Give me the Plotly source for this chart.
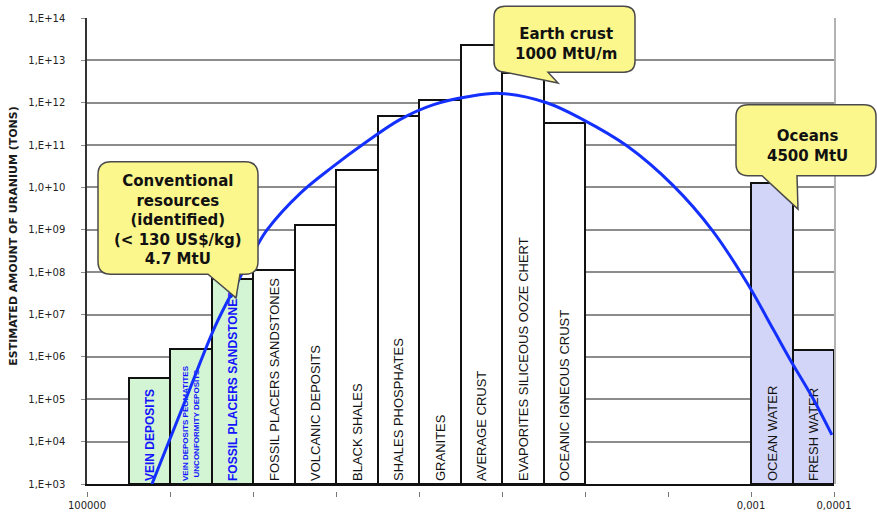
import plotly.graph_objects as go

W, H = 877, 523
PL, PR, PT, PB = 87, 834, 17, 497   # plot area in pixels (x-tick axis at PB)
Y_AXIS_BOTTOM = 490

# ---------------- data ----------------
categories = [
    "VEIN DEPOSITS",
    "VEIN DEPOSITS PEGMATITES<br>UNCONFORMITY DEPOSITS",
    "FOSSIL PLACERS SANDSTONES",
    "FOSSIL PLACERS SANDSTONES",
    "VOLCANIC DEPOSITS",
    "BLACK SHALES",
    "SHALES PHOSPHATES",
    "GRANITES",
    "AVERAGE CRUST",
    "EVAPORITES SILICEOUS OOZE CHERT",
    "OCEANIC IGNEOUS CRUST",
    "OCEAN WATER",
    "FRESH WATER",
]
grade_hi = [31623, 10000, 3162.3, 1000, 316.23, 100, 31.623, 10, 3.1623, 1, 0.31623, 0.001, 0.00031623]
grade_lo = [10000, 3162.3, 1000, 316.23, 100, 31.623, 10, 3.1623, 1, 0.31623, 0.1, 0.00031623, 0.0001]
tons = [3.2e5, 1.55e6, 6.9e7, 1.1e8, 1.3e9, 2.6e10, 4.8e11, 1.15e12, 2.3e13, 5.0e12, 3.4e11, 1.3e10, 1.5e6]
group = ["conv", "conv", "conv", "rock", "rock", "rock", "rock", "rock", "rock", "rock", "rock", "water", "water"]

curve_grade = [16500, 6400, 2870, 1648, 946, 678, 272, 109, 42, 17, 6.8, 2.6, 1.06, 0.29, 0.106,
               0.031, 0.0087, 0.0029, 0.00109, 0.00054, 0.00034, 0.000179, 0.000106]
curve_tons = [1.0e3, 1.05e5, 5.2e6, 4.48e7, 3.43e8, 1.0e9, 7.2e9, 3.1e10, 1.23e11, 4.0e11, 8.9e11,
              1.38e12, 1.66e12, 1.0e12, 4.0e11, 9.5e10, 1.12e10, 9.5e8, 5.2e7, 4.5e6, 8.9e5, 1.05e5, 1.45e4]

y_tickvals = [1e3, 1e4, 1e5, 1e6, 1e7, 1e8, 1e9, 1e10, 1e11, 1e12, 1e13, 1e14]
y_ticktext = ["1,E+03", "1,E+04", "1,E+05", "1,E+06", "1,E+07", "1,E+08", "1,E+09",
              "1,0+10", "1,E+11", "1,E+12", "1,E+13", "1,E+14"]
x_tickvals = [1e5, 1e4, 1e3, 1e2, 1e1, 1, 0.1, 0.01, 0.001, 0.0001]
x_ticktext = ["100000", "", "", "", "", "", "", "", "0,001", "0,0001"]

callouts = [
    "Conventional<br>resources<br>(identified)<br>(< 130 US$/kg)<br>4.7 MtU",
    "Earth crust<br>1000 MtU/m",
    "Oceans<br>4500 MtU",
]

# ---------------- styles ----------------
fill_map = {"conv": "#d3f5d3", "rock": "#ffffff", "water": "#d3d5f8"}
textcol_map = {"conv": "#1414ff", "rock": "#111111", "water": "#111111"}
bar_fill = [fill_map[g] for g in group]
bar_textcol = [textcol_map[g] for g in group]
bar_textsize = [12 if g == "conv" else 13 for g in group]
bar_textsize[1] = 8
bar_text = [("<b>%s</b>" % c) if g == "conv" else c for c, g in zip(categories, group)]


def px(x, y):
    return (x - PL) / (PR - PL), (PB - y) / (PB - PT)


def bubble(x0, y0, x1, y1, r, tail):
    (bx, _), (tx, ty), (ax, _) = tail
    pts = [("M", x0 + r, y0), ("L", x1 - r, y0), ("Q", x1, y0, x1, y0 + r), ("L", x1, y1 - r),
           ("Q", x1, y1, x1 - r, y1), ("L", bx, y1), ("L", tx, ty), ("L", ax, y1),
           ("L", x0 + r, y1), ("Q", x0, y1, x0, y1 - r), ("L", x0, y0 + r), ("Q", x0, y0, x0 + r, y0)]
    s = ""
    for p in pts:
        cmd = p[0]
        coords = p[1:]
        parts = []
        for i in range(0, len(coords), 2):
            X, Y = px(coords[i], coords[i + 1])
            parts.append("%.5f,%.5f" % (X, Y))
        s += cmd + " " + " ".join(parts) + " "
    return s + "Z"


fig = go.Figure()

fig.add_trace(go.Bar(
    x=grade_lo, y=tons, width=[h - l for h, l in zip(grade_hi, grade_lo)], offset=0,
    base=1e3,
    marker=dict(color=bar_fill, line=dict(color="#111111", width=2)),
    text=bar_text, textposition="inside", insidetextanchor="start", textangle=-90,
    constraintext="none", cliponaxis=False,
    textfont=dict(family="Liberation Sans", size=bar_textsize, color=bar_textcol),
    showlegend=False, hoverinfo="skip",
))

fig.add_trace(go.Scatter(
    x=curve_grade, y=curve_tons, mode="lines", xaxis="x2", yaxis="y",
    line=dict(color="#1430ff", width=3, shape="spline", smoothing=1.0),
    showlegend=False, hoverinfo="skip",
))

ydom0 = (PB - Y_AXIS_BOTTOM) / (PB - PT)

shapes = [
    dict(type="line", xref="paper", yref="paper", x0=px(835, 0)[0], x1=px(835, 0)[0],
         y0=ydom0, y1=1, line=dict(color="#9a9a9a", width=1.5), layer="above"),
]
bubble_style = dict(type="path", xref="paper", yref="paper", fillcolor="#fcf78d",
                    line=dict(color="#4a4a4a", width=1.5), layer="above")
shapes.append(dict(path=bubble(98, 163, 258, 277, 13, [(240, 0), (236, 301), (208, 0)]), **bubble_style))
shapes.append(dict(path=bubble(494, 5, 635, 72, 11, [(548, 0), (558, 83), (505, 0)]), **bubble_style))
shapes.append(dict(path=bubble(736, 105, 876, 177, 12, [(797, 0), (798, 211), (762, 0)]), **bubble_style))

call_pos = [(178, 222), (566, 43), (807, 147)]
annotations = []
for txt, (cx, cy) in zip(callouts, call_pos):
    X, Y = px(cx, cy)
    annotations.append(dict(text=txt, x=X, y=Y, xref="paper", yref="paper", showarrow=False,
                            xanchor="center", yanchor="middle", align="center",
                            font=dict(family="DejaVu Sans", size=15, color="#111111", weight="bold")))
X, Y = px(14, 238)
annotations.append(dict(text="ESTIMATED AMOUNT OF URANIUM (TONS)", x=X, y=Y, xref="paper", yref="paper",
                        showarrow=False, textangle=-90, xanchor="center", yanchor="middle",
                        font=dict(family="DejaVu Sans", size=11, color="#1a1a1a", weight="bold")))

fig.update_layout(
    width=W, height=H,
    margin=dict(l=PL, r=W - PR, t=PT, b=H - PB),
    paper_bgcolor="white", plot_bgcolor="white",
    bargap=0,
    xaxis=dict(type="log", range=[5, -4], showgrid=False, zeroline=False, showline=True,
               linecolor="#111111", linewidth=2, ticks="", showticklabels=False, anchor="y"),
    xaxis2=dict(type="log", range=[5, -4], overlaying="x", anchor="free", position=0, side="bottom",
                showgrid=False, zeroline=False, showline=False, ticks="outside", ticklen=5,
                tickcolor="#777777", tickwidth=1, tickvals=x_tickvals, ticktext=x_ticktext,
                tickfont=dict(family="DejaVu Sans", size=10, color="#222222")),
    yaxis=dict(type="log", range=[3, 14], domain=[ydom0, 1], tickvals=y_tickvals, ticktext=y_ticktext,
               showgrid=True, gridcolor="#8c8c8c", gridwidth=1.5, zeroline=False,
               showline=True, linecolor="#333333", linewidth=1.5,
               ticks="outside", ticklen=4, tickcolor="#8c8c8c", ticklabelstandoff=14,
               tickfont=dict(family="DejaVu Sans", size=10, color="#222222")),
    shapes=shapes,
    annotations=annotations,
)

fig.write_html("out.html", config={"displayModeBar": False},
               post_script="document.body.style.margin='0px';")
